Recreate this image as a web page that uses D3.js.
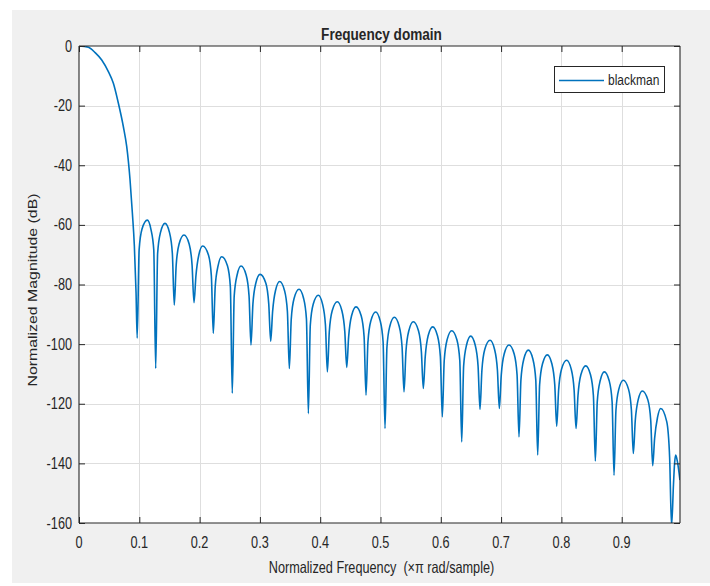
<!DOCTYPE html>
<html><head><meta charset="utf-8">
<script src="https://cdn.jsdelivr.net/npm/d3@7"></script>
<style>
body{margin:0;background:#fff;}
text{font-family:"Liberation Sans",Arial,Helvetica,sans-serif;fill:#262626;}
</style>
</head><body>
<svg id="chart" width="710" height="586"></svg>
<script>
// ---- data ----
const freq = [
  0,0.0155,0.0266,0.0377,0.0487,0.057,0.0653,0.0735,0.0791,0.0846,0.0885,0.0918,0.0946,0.0965,
  0.0997,0.1045,0.1133,0.1192,0.124,0.1272,
  0.1304,0.1352,0.1426,0.15,0.1548,0.158,
  0.1612,0.166,0.1741,0.1827,0.1875,0.1907,
  0.1939,0.1987,0.2051,0.2147,0.2195,0.2227,
  0.2259,0.2307,0.2366,0.2462,0.251,0.2542,
  0.2574,0.2622,0.2687,0.2772,0.282,0.2852,
  0.2884,0.2932,0.3002,0.3099,0.3147,0.3179,
  0.3211,0.3259,0.3328,0.3408,0.3456,0.3488,
  0.352,0.3568,0.3649,0.3724,0.3772,0.3804,
  0.3836,0.3884,0.3969,0.4039,0.4087,0.4119,
  0.4151,0.4199,0.4284,0.436,0.4408,0.444,
  0.4472,0.452,0.4594,0.468,0.4728,0.476,
  0.4792,0.484,0.492,0.4995,0.5043,0.5075,
  0.5107,0.5155,0.523,0.531,0.5358,0.539,
  0.5422,0.547,0.5544,0.563,0.5678,0.571,
  0.5742,0.579,0.5866,0.5945,0.5993,0.6025,
  0.6057,0.6105,0.6181,0.6267,0.6315,0.6347,
  0.6379,0.6427,0.6496,0.657,0.6618,0.665,
  0.6682,0.673,0.6817,0.6891,0.6939,0.6971,
  0.7003,0.7051,0.7131,0.7217,0.7265,0.7297,
  0.7329,0.7377,0.7452,0.7527,0.7575,0.7607,
  0.7639,0.7687,0.7767,0.7842,0.789,0.7922,
  0.7954,0.8002,0.8087,0.8163,0.8211,0.8243,
  0.8275,0.8323,0.8403,0.8483,0.8531,0.8563,
  0.8595,0.8643,0.8712,0.8793,0.8841,0.8873,
  0.8905,0.8953,0.9027,0.9113,0.9161,0.9193,
  0.9225,0.9273,0.9342,0.9434,0.9482,0.9514,
  0.9546,0.9594,0.9647,0.9747,0.9795,0.9827,
  0.9859,0.9877,0.9896,0.9925,0.9966
];
const magDb = [
  0,-0.4,-2.2,-4.7,-8.6,-12.5,-19.2,-27,-33.7,-44.8,-56,-67,-82.7,-98,
  -68.4,-61.4,-58.4,-61.4,-68.4,-108.2,
  -69.5,-62.5,-59.5,-62.5,-69.5,-86.9,
  -73.4,-66.4,-63.4,-66.4,-73.4,-86.1,
  -77.1,-70.1,-67.1,-70.1,-77.1,-96.4,
  -80.7,-73.7,-70.7,-73.7,-80.7,-116.5,
  -83.8,-76.8,-73.8,-76.8,-83.8,-100.3,
  -86.6,-79.6,-76.6,-79.6,-86.6,-99,
  -89,-82,-79,-82,-89,-108.2,
  -91.6,-84.6,-81.6,-84.6,-91.6,-123.3,
  -93.6,-86.6,-83.6,-86.6,-93.6,-109.3,
  -95.8,-88.8,-85.8,-88.8,-95.8,-107.8,
  -97.5,-90.5,-87.5,-90.5,-97.5,-117.1,
  -99.2,-92.2,-89.2,-92.2,-99.2,-128.3,
  -101,-94,-91,-94,-101,-116,
  -102.5,-95.5,-92.5,-95.5,-102.5,-114.9,
  -104.2,-97.2,-94.2,-97.2,-104.2,-124.4,
  -105.5,-98.5,-95.5,-98.5,-105.5,-132.8,
  -107.3,-100.3,-97.3,-100.3,-107.3,-121.9,
  -108.7,-101.7,-98.7,-101.7,-108.7,-121.6,
  -110.3,-103.3,-100.3,-103.3,-110.3,-131.1,
  -112,-105,-102,-105,-112,-137.2,
  -113.6,-106.6,-103.6,-106.6,-113.6,-127.5,
  -115.4,-108.4,-105.4,-108.4,-115.4,-128.3,
  -117.3,-110.3,-107.3,-110.3,-117.3,-139.2,
  -119.3,-112.3,-109.3,-112.3,-119.3,-144,
  -122.1,-115.1,-112.1,-115.1,-122.1,-136.7,
  -125.7,-118.7,-115.7,-118.7,-125.7,-140.8,
  -131.6,-124.6,-121.6,-126,-138,-161,
  -147,-140,-137.2,-139.5,-145.6
];
const xTicks = [0,0.1,0.2,0.3,0.4,0.5,0.6,0.7,0.8,0.9];
const xTickLabels = ["0","0.1","0.2","0.3","0.4","0.5","0.6","0.7","0.8","0.9"];
const yTicks = [0,-20,-40,-60,-80,-100,-120,-140,-160];
const yTickLabels = ["0","-20","-40","-60","-80","-100","-120","-140","-160"];
const seriesName = "blackman";
const titleText = "Frequency domain";
const xLabelText = "Normalized Frequency  (\u00D7\u03C0 rad/sample)";
const yLabelText = "Normalized Magnitude (dB)";
const xMax = 0.9967;

// ---- layout ----
const L = 79, R = 680, T = 46, B = 523;
const SY = 1.25; // vertical stretch of the reference's glyphs
const svg = d3.select("#chart");
svg.append("rect").attr("x",0).attr("y",0).attr("width",710).attr("height",586).attr("fill","#fff");
svg.append("rect").attr("x",12).attr("y",10).attr("width",698).attr("height",573).attr("fill","#f0f0f0");
svg.append("rect").attr("x",L).attr("y",T).attr("width",R-L).attr("height",B-T).attr("fill","#fff");

const x = d3.scaleLinear().domain([0, xMax]).range([L, R]);
const y = d3.scaleLinear().domain([-160, 0]).range([B, T]);

// grid
const grid = svg.append("g").attr("stroke","#dedede").attr("stroke-width",1);
xTicks.filter(v=>v>0).forEach(v=>{
  const px = Math.round(x(v))+0.5;
  grid.append("line").attr("x1",px).attr("x2",px).attr("y1",T).attr("y2",B);
});
yTicks.filter(v=>v>-160 && v<0).forEach(v=>{
  const py = Math.round(y(v))+0.5;
  grid.append("line").attr("x1",L).attr("x2",R).attr("y1",py).attr("y2",py);
});

// curve
svg.append("clipPath").attr("id","clip").append("rect")
  .attr("x",L).attr("y",T).attr("width",R-L).attr("height",B-T);
const pts = freq.map((f,i)=>[f, magDb[i]]);
const line = d3.line().x(d=>x(d[0])).y(d=>y(d[1])).curve(d3.curveMonotoneX);
svg.append("path").datum(pts).attr("d",line)
  .attr("fill","none").attr("stroke","#0072BD").attr("stroke-width",1.6)
  .attr("stroke-linejoin","round").attr("clip-path","url(#clip)");

// axes (box with inward ticks on all sides)
const tk = 6;
const axB = svg.append("g").attr("transform",`translate(0,${B})`)
  .call(d3.axisBottom(x).tickValues(xTicks).tickSize(-tk).tickFormat(""));
const axT = svg.append("g").attr("transform",`translate(0,${T})`)
  .call(d3.axisTop(x).tickValues(xTicks).tickSize(-tk).tickFormat(""));
const axL = svg.append("g").attr("transform",`translate(${L},0)`)
  .call(d3.axisLeft(y).tickValues(yTicks).tickSize(-tk).tickFormat(""));
const axR = svg.append("g").attr("transform",`translate(${R},0)`)
  .call(d3.axisRight(y).tickValues(yTicks).tickSize(-tk).tickFormat(""));
[axB,axT,axL,axR].forEach(a=>{
  a.selectAll("path").attr("stroke","#262626").attr("stroke-width",1.1);
  a.selectAll("line").attr("stroke","#262626").attr("stroke-width",1);
});
axB.select(".domain").attr("d",`M${L},0H${R}`);
axT.select(".domain").attr("d",`M${L},0H${R}`);
axL.select(".domain").attr("d",`M0,${T}V${B}`);
axR.select(".domain").attr("d",`M0,${T}V${B}`);

// tick labels
const fs = 12.7;
svg.append("g").selectAll("text").data(yTicks).join("text")
  .attr("transform",d=>`translate(72,${y(d)}) scale(1,${SY})`)
  .attr("text-anchor","end").attr("dy","0.35em").attr("font-size",fs)
  .text((d,i)=>yTickLabels[i]);
svg.append("g").selectAll("text").data(xTicks).join("text")
  .attr("transform",d=>`translate(${x(d)},542) scale(1,${SY})`)
  .attr("text-anchor","middle").attr("dy","0.35em").attr("font-size",fs)
  .text((d,i)=>xTickLabels[i]);

// title & axis labels
svg.append("text").attr("transform",`translate(${(L+R)/2+2},40) scale(1,${SY})`)
  .attr("text-anchor","middle").attr("font-size",13.6).attr("font-weight","bold")
  .text(titleText);
svg.append("text").attr("transform",`translate(${(L+R)/2+2},573) scale(1,${SY})`)
  .attr("text-anchor","middle").attr("font-size",fs).style("white-space","pre")
  .text(xLabelText);
svg.append("text").attr("transform",`translate(33,290) rotate(-90) scale(${SY},1)`)
  .attr("text-anchor","middle").attr("dy","0.35em").attr("font-size",fs)
  .text(yLabelText);

// legend
const lg = svg.append("g");
lg.append("rect").attr("x",554.5).attr("y",66.5).attr("width",110).attr("height",26)
  .attr("fill","#fff").attr("stroke","#262626").attr("stroke-width",1);
lg.append("line").attr("x1",559).attr("x2",604).attr("y1",80.5).attr("y2",80.5)
  .attr("stroke","#0072BD").attr("stroke-width",1.6);
lg.append("text").attr("transform",`translate(608,80) scale(1,${SY})`)
  .attr("dy","0.35em").attr("font-size",12).text(seriesName);
</script>
</body></html>
